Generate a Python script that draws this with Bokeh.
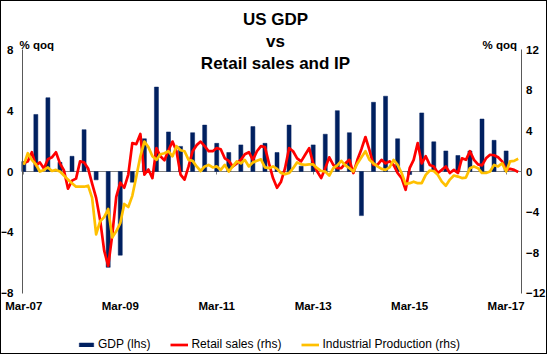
from bokeh.plotting import figure
from bokeh.models import (Range1d, LinearAxis, FixedTicker, Label,
                          Legend, LegendItem)
from bokeh.embed import file_html
from bokeh.resources import INLINE

# ---------------- data ----------------
# monthly index: 0 = Mar-07 ... 123 = Jun-17
months = list(range(124))

# GDP, % qoq (lhs), quarterly: Q1-07 ... Q1-17
gdp = [0.65, 3.75, 4.85, 0.6, 1.0, 2.75, -0.55, -6.3, -5.5, -0.7,
       2.15, 5.55, 2.6, 1.65, 2.55, 3.05, 1.85, 1.25, 1.75, 2.95,
       1.85, 1.25, 3.05, 0.35, 1.75, 2.45, 4.0, 2.55, -2.9, 4.55,
       4.95, 2.15, -0.2, 3.85, 1.95, 1.35, 1.05, 1.35, 3.45, 2.05,
       1.35]
gdp_month = [3 * i for i in range(len(gdp))]

# Retail sales (rhs), monthly
retail = [0.8, 1.0, 1.9, 0.6, 0.9, 0.3, 1.2, 1.4, 1.9, 0.8,
          0.1, -1.7, -0.9, -0.7, 1.0, 0.9, 0.3, -1.2, -2.6, -4.8,
          -7.8, -9.3, -6.3, -2.5, -1.1, -1.6, -0.3, 2.8, 2.7, 3.7,
          -0.3, 0.2, -0.65, 2.3, 1.5, 1.1, 2.1, 2.95, 2.0, -0.3,
          -0.8, 0.5, 2.0, 2.6, 2.95, 2.5, 2.0, 2.0, 2.3, 2.2,
          1.3, 1.05, 0.5, 0.8, 1.15, 1.7, 1.9, 1.15, 2.0, 2.5,
          2.4, 0.8, -0.65, -1.6, -1.0, 0.33, 2.3, 2.0, 1.3, 1.0,
          1.65, 2.3, 0.8, 0.0, -0.65, 0.33, 1.4, 0.65, 0.33, 0.33,
          0.8, 1.15, -0.15, 1.15, 2.2, 3.4, 2.1, 0.65, 0.65, 1.15,
          0.8, 1.0, 0.65, -0.15, -0.65, -1.8, 0.33, 1.15, 2.8, 0.8,
          1.5, 0.65, 0.5, -0.15, 0.16, 0.5, -0.15, 0.16, -0.15, 1.3,
          1.15, 2.0, 1.15, 0.7, 0.6, 1.3, 1.65, 1.6, 1.4, 1.0,
          0.16, 0.26, 0.16, -0.05]

# Industrial Production (rhs), monthly
ip = [0.65, 1.8, 1.15, 0.7, 0.0, 0.16, 0.4, 0.05, 0.16, 0.0,
      -0.4, -0.8, -1.15, -1.5, -1.5, -1.5, -1.4, -2.6, -6.2, -4.9,
      -4.5, -3.7, -6.5, -5.9, -5.1, -3.2, -3.5, -2.4, -0.5, 1.5,
      2.95, 2.4, 1.5, 1.15, 1.7, 1.8, 2.0, 1.5, 2.5, 2.1,
      2.0, 1.15, 1.05, 0.5, 0.05, 0.5, 0.65, 0.4, 0.5, 0.16,
      0.65, 0.0, 0.5, 1.0, 0.8, 1.15, 0.5, 0.9, 1.05, 1.2,
      0.4, 0.33, 0.5, 0.26, -0.15, -0.26, -0.15, 0.33, 0.9, 0.7,
      0.65, 0.7, 0.7, 0.33, 0.05, 0.0, -0.4, 0.33, 0.6, 1.05,
      0.6, 0.33, 0.0, 0.8, 1.4, 2.0, 1.15, 0.8, 0.5, 0.26,
      0.16, 0.4, 1.15, 0.65, -0.15, -1.25, -1.15, -1.0, -1.15, -1.15,
      -0.33, 0.1, 0.05, -0.33, -1.0, -1.4, -0.8, -0.4, -0.5, -0.65,
      -0.6, 0.33, 0.5, 0.33, -0.15, -0.15, 0.0, 0.65, 0.5, 0.8,
      0.0, 1.0, 1.05, 1.25]

x_ticks = [0, 24, 48, 72, 96, 120]
x_tick_labels = ["Mar-07", "Mar-09", "Mar-11", "Mar-13", "Mar-15", "Mar-17"]
lhs_ticks = [-8, -4, 0, 4, 8]
rhs_ticks = [-12, -8, -4, 0, 4, 8, 12]

title_lines = ["US GDP", "vs", "Retail sales and IP"]
unit_label = "% qoq"
legend_labels = ["GDP (lhs)", "Retail sales (rhs)", "Industrial Production (rhs)"]

# ---------------- layout constants ----------------
FONT = "Liberation Sans"
NAVY = "#002060"
RED = "#FF0000"
ORANGE = "#FFC000"
AXIS = "#595959"

W, H = 547, 354
X_MIN, X_MAX = -0.32, 123.7           # extent of the plotted period (months)
X_LEFT_PX, X_RIGHT_PX = 21, 519.5     # pixel columns of the two value axes
Y_TOP_PX, Y_BOT_PX = 48.3, 291.7      # pixel rows of lhs +8 / -8

px_month = (X_RIGHT_PX - X_LEFT_PX) / (X_MAX - X_MIN)
x_lo = X_MIN - X_LEFT_PX / px_month
x_hi = X_MAX + (W - X_RIGHT_PX) / px_month
px_unit = (Y_BOT_PX - Y_TOP_PX) / 16.0
lhs_lo = -8 - (H - Y_BOT_PX) / px_unit
lhs_hi = 8 + Y_TOP_PX / px_unit

p = figure(width=W, height=H, output_backend="svg", toolbar_location=None,
           x_range=Range1d(x_lo, x_hi), y_range=Range1d(lhs_lo, lhs_hi),
           min_border=0, min_border_left=0, min_border_right=0,
           min_border_top=0, min_border_bottom=0,
           background_fill_color="white", border_fill_color="white",
           styles={"border": "1px solid #000000"})
p.extra_y_ranges = {"rhs": Range1d(1.5 * lhs_lo, 1.5 * lhs_hi)}
p.xgrid.visible = False
p.ygrid.visible = False
p.outline_line_color = None


def style_labels(ax, standoff):
    ax.major_label_standoff = standoff
    ax.major_label_text_font = FONT
    ax.major_label_text_font_style = "bold"
    ax.major_label_text_font_size = "11.5px"
    ax.major_label_text_color = "black"
    ax.minor_tick_line_color = None


# x axis: date labels just below the -8 line
xa = p.xaxis[0]
xa.fixed_location = -8
xa.ticker = FixedTicker(ticks=x_ticks)
xa.major_label_overrides = {t: l for t, l in zip(x_ticks, x_tick_labels)}
xa.axis_line_color = None
xa.major_tick_line_color = None
xa.major_tick_out = 0
xa.major_tick_in = 0
style_labels(xa, 7)

# zero line with small date ticks
za = LinearAxis(fixed_location=0, ticker=FixedTicker(ticks=x_ticks),
                bounds=(X_MIN, X_MAX), level="underlay")
za.axis_line_color = "#808080"
za.axis_line_width = 1
za.major_tick_line_color = "#808080"
za.major_tick_out = 3
za.major_tick_in = 0
za.minor_tick_line_color = None
za.major_label_overrides = {t: "" for t in x_ticks}
za.major_label_text_font_size = "1px"
p.add_layout(za, "below")

# left axis
ya = p.yaxis[0]
ya.fixed_location = X_MIN
ya.ticker = FixedTicker(ticks=lhs_ticks)
ya.bounds = (-8, 8)
ya.axis_line_color = AXIS
ya.major_tick_line_color = None
ya.major_tick_out = 0
ya.major_tick_in = 0
style_labels(ya, 9)

# right axis
ra = LinearAxis(y_range_name="rhs", ticker=FixedTicker(ticks=rhs_ticks),
                bounds=(-12, 12), fixed_location=X_MAX)
ra.axis_line_color = AXIS
ra.major_tick_line_color = None
ra.major_tick_out = 0
ra.major_tick_in = 0
style_labels(ra, 5)
p.add_layout(ra, "right")

# series
bars = p.vbar(x=gdp_month, top=gdp, bottom=0, width=1.0,
              fill_color=NAVY, line_color=NAVY, line_width=0.5)
r_retail = p.line(months, retail, y_range_name="rhs", line_color=RED,
                  line_width=2.7, line_join="round")
r_ip = p.line(months, ip, y_range_name="rhs", line_color=ORANGE,
              line_width=2.7, line_join="round")

# title lines (screen units measured from the frame's bottom-left)
cx = 274
for txt, fy in zip(title_lines, [18, 40, 62]):
    p.add_layout(Label(x=cx, y=H - fy, x_units="screen", y_units="screen",
                       text=txt, text_align="center", text_baseline="middle",
                       text_font=FONT, text_font_style="bold",
                       text_font_size="17px", text_color="black"))

# unit labels
p.add_layout(Label(x=X_LEFT_PX - 3, y=H - 43, x_units="screen", y_units="screen",
                   text=unit_label, text_align="left", text_baseline="middle",
                   text_font=FONT, text_font_style="bold",
                   text_font_size="11.5px", text_color="black"))
p.add_layout(Label(x=X_RIGHT_PX - 4, y=H - 43, x_units="screen", y_units="screen",
                   text=unit_label, text_align="right", text_baseline="middle",
                   text_font=FONT, text_font_style="bold",
                   text_font_size="11.5px", text_color="black"))

# legend at the bottom
legend = Legend(items=[LegendItem(label=legend_labels[0], renderers=[bars]),
                       LegendItem(label=legend_labels[1], renderers=[r_retail]),
                       LegendItem(label=legend_labels[2], renderers=[r_ip])],
                orientation="horizontal", location=(76, 4),
                glyph_width=18, glyph_height=5, label_height=14,
                label_standoff=3, spacing=20,
                padding=0, margin=0, border_line_color=None,
                background_fill_alpha=0,
                label_text_font=FONT, label_text_font_size="12px",
                label_text_color="black")
p.add_layout(legend)

open("out.html", "w").write(file_html(p, INLINE))
